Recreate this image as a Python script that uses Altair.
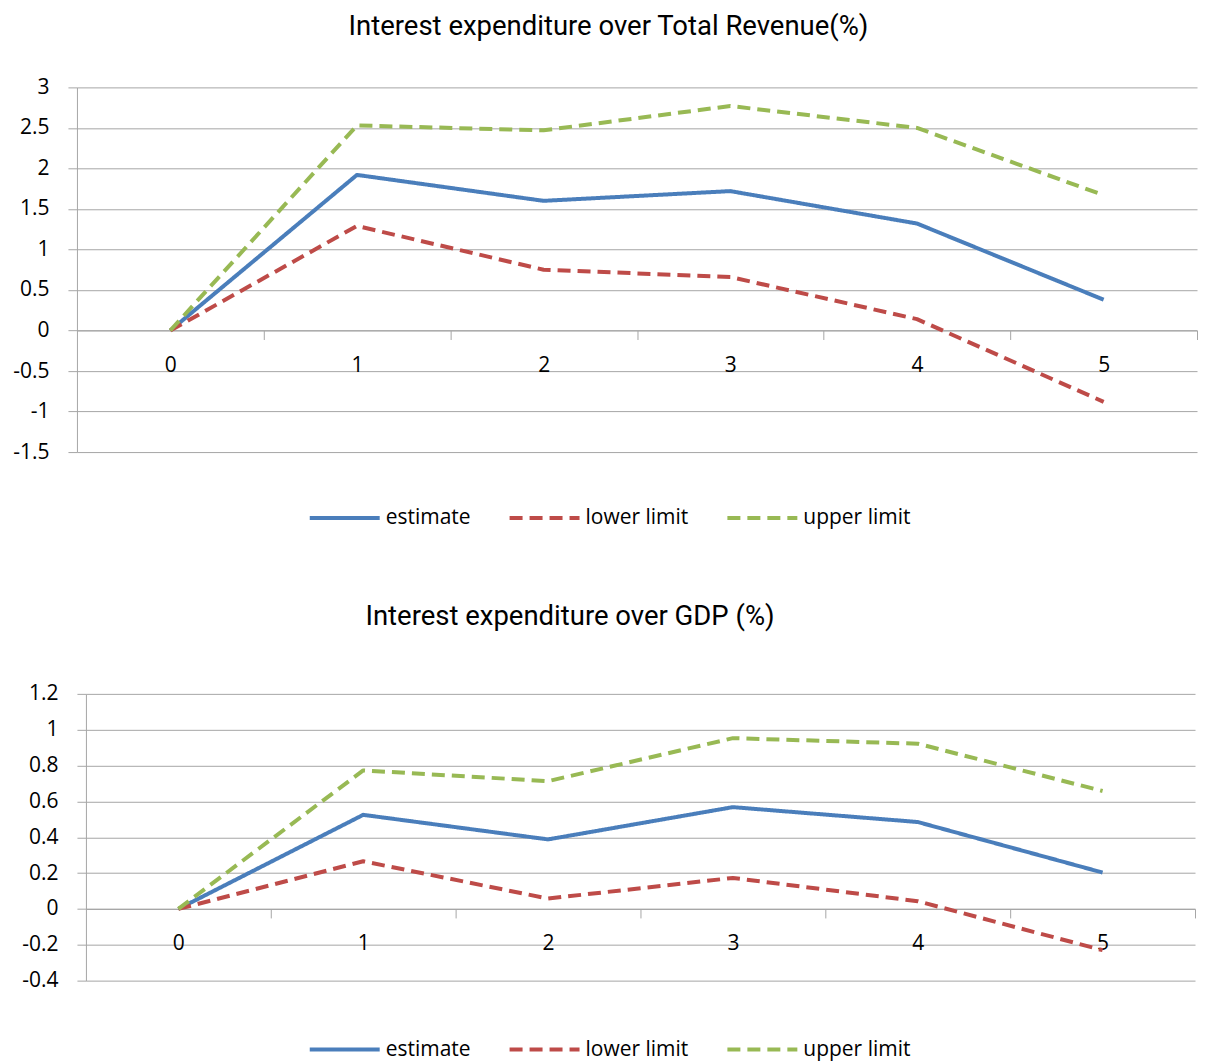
import altair as alt
import pandas as pd

# ---------------- data ----------------
periods = [0, 1, 2, 3, 4, 5]
series_names = ["estimate", "lower limit", "upper limit"]

rev_estimate = [0, 1.92, 1.60, 1.72, 1.32, 0.38]
rev_lower = [0, 1.29, 0.75, 0.66, 0.14, -0.88]
rev_upper = [0, 2.53, 2.47, 2.77, 2.50, 1.67]

gdp_estimate = [0, 0.525, 0.388, 0.568, 0.485, 0.203]
gdp_lower = [0, 0.266, 0.058, 0.173, 0.043, -0.23]
gdp_upper = [0, 0.773, 0.713, 0.953, 0.922, 0.658]

rev_ticks = [-1.5, -1, -0.5, 0, 0.5, 1, 1.5, 2, 2.5, 3]
gdp_ticks = [-0.4, -0.2, 0, 0.2, 0.4, 0.6, 0.8, 1, 1.2]

title_rev = "Interest expenditure over Total Revenue(%)"
title_gdp = "Interest expenditure over GDP (%)"

colors = ["#4A7EBB", "#BE4B48", "#98B954"]
dashes = [[1, 0], [13, 7], [13, 7]]

FONT = "Open Sans"
TITLE_FONT = "Roboto"
GRID = "#A6A6A6"


def long_df(est, low, up):
    rows = []
    for name, vals in zip(series_names, [est, low, up]):
        for p, v in zip(periods, vals):
            rows.append({"period": p, "value": v, "series": name})
    return pd.DataFrame(rows)


def panel(df, title, ydom, yticks, width, height, inset, title_dx, title_offset,
          legend_x, legend_y):
    band = (width - inset) / len(periods)
    zero_from_bottom = height * (0 - ydom[0]) / (ydom[1] - ydom[0])
    legend = alt.Legend(
        title=None,
        orient="none",
        legendX=legend_x,
        legendY=legend_y,
        direction="horizontal",
        symbolType="stroke",
        symbolSize=4900,
        symbolStrokeWidth=4,
        labelFont=FONT,
        labelFontSize=21,
        labelColor="#000000",
        labelOffset=4,
        columnPadding=31,
    )
    xscale = alt.Scale(domain=[periods[0] - 0.5, periods[-1] + 0.5], nice=False, zero=False,
                       range=[inset, width])
    return alt.Chart(df).mark_line(strokeWidth=4, strokeJoin="round").encode(
        x=alt.X(
            "period:Q",
            scale=xscale,
            axis=alt.Axis(
                values=[p + 0.5 for p in periods],
                labelExpr="'' + (datum.value - 0.5)",
                labelOffset=-band / 2,
                offset=-zero_from_bottom,
                tickSize=9,
                tickColor=GRID,
                domainColor=GRID,
                labelPadding=15,
                labelFlush=False,
                labelOverlap=False,
                labelFont=FONT,
                labelFontSize=21,
                labelColor="#000000",
                grid=False,
                title=None,
            ),
        ),
        y=alt.Y(
            "value:Q",
            scale=alt.Scale(domain=ydom, nice=False, zero=False),
            axis=alt.Axis(
                values=yticks,
                labelExpr="'' + datum.value",
                grid=True,
                gridColor=GRID,
                tickSize=9,
                tickColor=GRID,
                domainColor=GRID,
                labelPadding=19,
                labelFont=FONT,
                labelFontSize=21,
                labelColor="#000000",
                offset=-inset,
                minExtent=69,
                maxExtent=69,
                title=None,
            ),
        ),
        color=alt.Color("series:N", scale=alt.Scale(domain=series_names, range=colors), legend=legend),
        strokeDash=alt.StrokeDash("series:N", scale=alt.Scale(domain=series_names, range=dashes), legend=legend),
    ).properties(
        width=width,
        height=height,
        title=alt.TitleParams(
            title,
            anchor="middle",
            frame="group",
            dx=title_dx,
            offset=title_offset,
            font=TITLE_FONT,
            fontSize=27.5,
            fontWeight="normal",
            color="#000000",
        ),
    )


top = panel(long_df(rev_estimate, rev_lower, rev_upper), title_rev, [-1.5, 3], rev_ticks,
            1121, 365, 0, -28.5, 36, 231, 394)
bottom = panel(long_df(gdp_estimate, gdp_lower, gdp_upper), title_gdp, [-0.4, 1.2], gdp_ticks,
               1119, 287, 9, -66, 52, 231, 319)

chart = alt.vconcat(top, bottom, spacing=75).resolve_legend(
    color="independent", strokeDash="independent"
).properties(
    padding={"left": 0, "top": 4, "right": 0, "bottom": 6},
    background="white",
).configure_view(stroke=None)

chart.save("out.html", embed_options={"renderer": "svg", "actions": False})
